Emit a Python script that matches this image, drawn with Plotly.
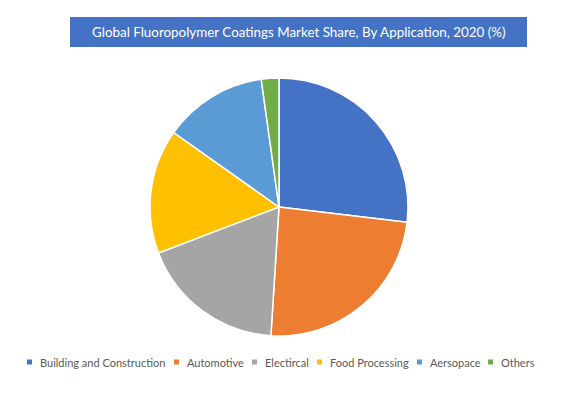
import plotly.graph_objects as go

categories = ["Building and Construction", "Automotive", "Electircal", "Food Processing", "Aersopace", "Others"]
shares = [26.9, 24.1, 18.2, 15.6, 13.0, 2.2]
colors = ["#4472C4", "#ED7D31", "#A5A5A5", "#FFC000", "#5B9BD5", "#70AD47"]
title_text = "Global Fluoropolymer Coatings Market Share, By Application, 2020 (%)"

W, H = 585, 398
# legend layout (pixel positions of marker left edges)
legend_marker_x = [27, 174, 252, 317, 417, 488]
legend_y = 362

def px(x):
    return x / W

def py(y):
    return 1 - y / H

fig = go.Figure()
fig.add_trace(go.Pie(
    labels=categories,
    values=shares,
    sort=False,
    direction="clockwise",
    rotation=0,
    marker=dict(colors=colors, line=dict(color="white", width=1.5)),
    textinfo="none",
    hoverinfo="label+percent",
    showlegend=False,
    domain=dict(x=[px(150), px(408)], y=[py(336), py(78)]),
))

shapes = [dict(type="rect", xref="paper", yref="paper",
               x0=px(70), x1=px(527), y0=py(47), y1=py(17),
               fillcolor="#4472C4", line=dict(width=0), layer="below")]
annotations = [dict(text=title_text, xref="paper", yref="paper",
                    x=px(298.5), y=py(32), xanchor="center", yanchor="middle",
                    showarrow=False, font=dict(family="Lato", size=13.4, color="white"))]

for cat, col, mx in zip(categories, colors, legend_marker_x):
    shapes.append(dict(type="rect", xref="paper", yref="paper",
                       x0=px(mx), x1=px(mx + 5), y0=py(legend_y + 2.5), y1=py(legend_y - 2.5),
                       fillcolor=col, line=dict(width=0)))
    annotations.append(dict(text=cat, xref="paper", yref="paper",
                            x=px(mx + 11), y=py(legend_y), xanchor="left", yanchor="middle",
                            showarrow=False,
                            font=dict(family="Lato", size=11, color="#595959")))

fig.update_layout(
    width=W, height=H,
    margin=dict(l=0, r=0, t=0, b=0),
    paper_bgcolor="white", plot_bgcolor="white",
    shapes=shapes, annotations=annotations,
    showlegend=False,
)

fig.write_html("out.html", config={"displayModeBar": False},
               post_script="document.body.style.margin='0';")
